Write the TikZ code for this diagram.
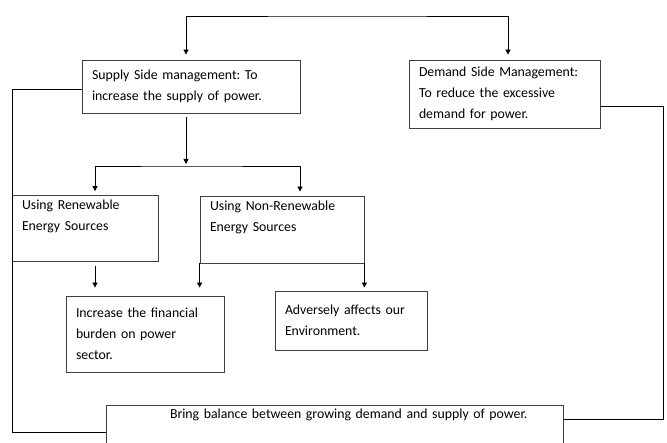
\documentclass[tikz,border=0pt]{standalone}
\usepackage{fontspec}
\setmainfont{Carlito}
\usetikzlibrary{arrows.meta}
\frenchspacing
\begin{document}
\begin{tikzpicture}[x=1pt,y=-1pt,font=\fontsize{13.8}{21}\selectfont,line width=0.8pt,>={Triangle[length=5pt,width=5pt]}]
% Box and connector styles
\tikzstyle{box}=[draw=black!75,align=left,inner xsep=10pt,inner ysep=4pt];
\tikzstyle{arrow}=[->,shorten >=6pt,shorten <=4pt];
\useasboundingbox (0,0) rectangle (667,443);
\clip (0,0) rectangle (667,443);
% The boxes
\node(supply)[box,text width=198pt,minimum height=53pt] at (191,86.5) {Supply Side management: To\\increase the supply of power.};
\node(demand)[box,text width=171pt,minimum height=68pt] at (504.5,94) {Demand Side Management:\\To reduce the excessive\\demand for power.};
\node(renew)[box,text width=126pt,minimum height=65pt] at (85,228.5) {Using Renewable\\Energy Sources\\\strut};
\node(nonrenew)[box,text width=144pt,minimum height=67pt] at (282,229.5) {Using Non-Renewable\\Energy Sources\\\strut};
\node(incr)[box,text width=138pt,minimum height=76pt] at (145,334) {Increase the financial\\burden on power\\sector.};
\node(adv)[box,text width=132pt,minimum height=59pt] at (351,320.5) {Adversely affects our\\Environment.};
\node(balance)[box,text width=437pt,anchor=north] at (334.5,405) {\hspace*{54pt}Bring balance between growing demand and supply of power.\\\strut\\\strut};
% Top split
\coordinate(top) at (347,16);
\draw[<->,shorten <=5pt,shorten >=5pt] ([xshift=-5pt]supply.north) |- (top) -| ([xshift=3.5pt]demand.north);
% Supply side branches
\coordinate(split) at (186,166);
\draw[arrow,shorten >=2pt] ([xshift=-5pt]supply.south) -- (split);
\draw[<->,shorten <=4pt,shorten >=4pt] ([xshift=10pt]renew.north) |- (split) -| ([xshift=18pt]nonrenew.north);
\draw[arrow,shorten >=8pt] ([xshift=10pt]renew.south) -- ([xshift=10pt]renew.south |- incr.north);
\draw[arrow,shorten <=0pt,shorten >=8pt] (nonrenew.south west) -- (nonrenew.south west |- incr.north);
\draw[arrow,shorten <=0pt,shorten >=3pt] (nonrenew.south east) -- (nonrenew.south east |- adv.north);
% Lines into the balance box
\coordinate(lbend) at (12,432);
\draw ([yshift=-2.5pt]supply.west) -| (lbend) -- (lbend -| balance.west);
\coordinate(rbend) at (663,419);
\draw ([yshift=-12pt]demand.east) -| (rbend) -- (rbend -| balance.east);
\end{tikzpicture}
\end{document}
